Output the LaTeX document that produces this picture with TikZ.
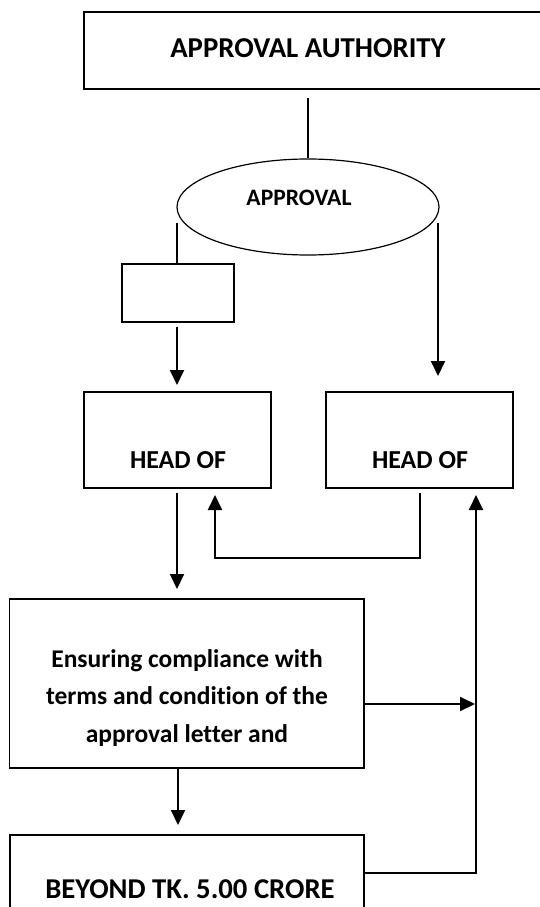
\documentclass[tikz,border=0pt]{standalone}
\usepackage{fontspec}
\setmainfont{Carlito}[Ligatures={NoCommon}]
\usetikzlibrary{arrows.meta,shapes.geometric}

\tikzset{
  box/.style={draw, line width=1.2pt, rectangle, inner sep=0pt},
  oval/.style={draw, line width=1.2pt, ellipse, inner sep=0pt},
  label/.style={inner sep=0pt, font=\bfseries},
  plain/.style={line width=1.2pt},
  flow/.style={line width=2pt, -{Triangle[width=14pt,length=15pt]}},
}

\begin{document}
\begin{tikzpicture}[x=1pt,y=-1pt]
\useasboundingbox (0,0) rectangle (539,907);

% boxes and their labels
\node[box, minimum width=476pt, minimum height=77pt] (auth) at (322,50.5) {};
\node[label, font=\bfseries\fontsize{28.8}{30}\selectfont, anchor=base] (authtxt) at (308,57) {APPROVAL AUTHORITY};

\node[oval, minimum width=262pt, minimum height=96pt] (appr) at (308,207) {};
\node[label, font=\bfseries\fontsize{23.6}{25}\selectfont, anchor=base] (apprtxt) at (299,205) {APPROVAL};

\node[box, minimum width=112pt, minimum height=58pt] (small) at (178,293) {};

\node[box, minimum width=187pt, minimum height=96pt] (headA) at (177.5,440) {};
\node[label, font=\bfseries\fontsize{25.9}{27}\selectfont, anchor=base] (headAtxt) at (178,468) {HEAD OF};

\node[box, minimum width=187pt, minimum height=96pt] (headB) at (419.5,440) {};
\node[label, font=\bfseries\fontsize{25.9}{27}\selectfont, anchor=base] (headBtxt) at (420,468) {HEAD OF};

\node[box, minimum width=354.5pt, minimum height=169pt] (comp) at (186.75,683.5) {};
\node[label, font=\bfseries\fontsize{25.5}{37.5}\selectfont, align=center, anchor=base] (comptxt) at (187,742)
  {Ensuring compliance with\\terms and condition of the\\approval letter and};

\node[box, minimum width=354pt, minimum height=140pt] (beyond) at (187,905) {};
\node[label, font=\bfseries\fontsize{28.7}{30}\selectfont, anchor=base] (beyondtxt) at (190,898) {BEYOND TK. 5.00 CRORE};

% free ends of the connectors
\coordinate (authOut) at (308,98);
\coordinate (apprL) at (177,223);
\coordinate (apprR) at (438,223);
\coordinate (headBin) at (438,376);
\coordinate (smallOut) at (177,327);
\coordinate (headAin) at (177,385);
\coordinate (headAout) at (177,493);
\coordinate (compIn) at (177,589);
\coordinate (headBout) at (420,493);
\coordinate (backIn) at (215,495);
\coordinate (rise) at (476,495);
\coordinate (compOut) at (178,768);
\coordinate (beyondIn) at (178,825);

% connectors
\draw[plain] (authOut) -- (appr.north);
\draw[plain] (apprL) -- (small.north -| apprL);
\draw[flow] (apprR) -- (headBin);
\draw[flow] (smallOut) -- (headAin);
\draw[flow] (headAout) -- (compIn);
\draw[flow] (headBout) |- (215,558) -- (backIn);
\draw[flow] (comp.east |- 0,704) -- (475,704);
\draw[flow] (compOut) -- (beyondIn);
\draw[flow] (beyond.east |- 0,873) -| (rise);
\end{tikzpicture}
\end{document}
